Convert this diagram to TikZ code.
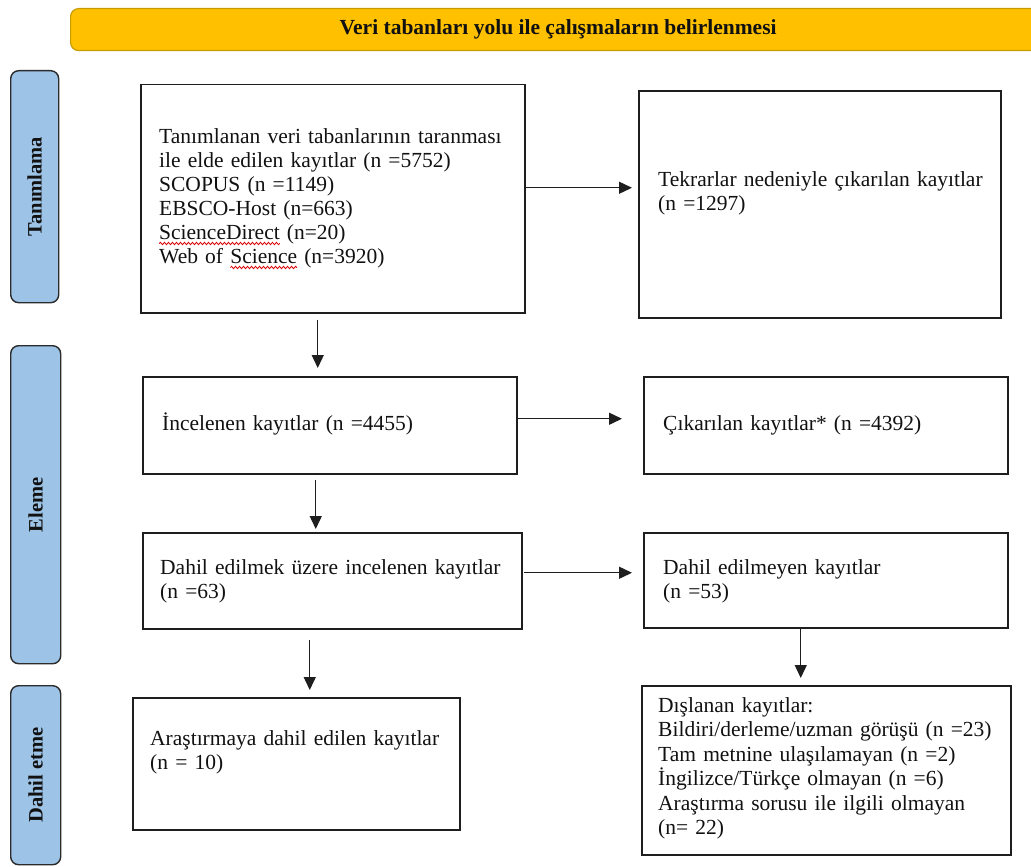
\documentclass[tikz,border=0pt]{standalone}
\usepackage{fontspec}
\setmainfont{Liberation Serif}
\usetikzlibrary{arrows.meta,calc,decorations.pathmorphing}
\definecolor{bannerfill}{HTML}{FFC000}
\definecolor{bannerdraw}{HTML}{C79C00}
\definecolor{stagefill}{HTML}{9DC3E6}
\definecolor{stagedraw}{HTML}{2B2B2B}
\definecolor{boxdraw}{HTML}{1E1E1E}
\definecolor{txtcol}{HTML}{111111}
\newsavebox\wavebox
\newlength\wavelen
\newcommand\redwave[1]{\leavevmode\sbox\wavebox{#1}\setlength\wavelen{\wd\wavebox}%
  \rlap{\tikz[baseline=0pt,x=1pt,y=1pt]{\useasboundingbox (0,0);
    \draw[red!85!black, line width=0.8pt, decorate, decoration={snake, amplitude=1.2pt, segment length=4pt}] (0,-4.5) -- (\wavelen,-4.5);}}%
  \usebox\wavebox}
\tikzset{
  banner/.style={draw=bannerdraw, fill=bannerfill, line width=1.2pt, rounded corners=8pt, inner sep=0pt,
    font=\fontsize{21.5pt}{24pt}\selectfont\bfseries, text=txtcol},
  stage/.style={draw=stagedraw, fill=stagefill, line width=1.4pt, rounded corners=8pt, inner sep=0pt,
    font=\fontsize{20.5pt}{24pt}\selectfont\bfseries, text=txtcol},
  box/.style={draw=boxdraw, line width=1.5pt, inner sep=0pt, anchor=north west},
  txt/.style={inner sep=0pt, anchor=base west, text width=370pt, align=left, text=txtcol,
    font=\fontsize{21.5pt}{24.5pt}\selectfont},
  arr/.style={draw=boxdraw, line width=1.4pt, -{Triangle[length=13pt,width=12pt]}}
}
\begin{document}
\begin{tikzpicture}[x=1pt,y=-1pt]
\useasboundingbox (0,0) rectangle (1031,867);
% banner
\node[banner, minimum width=975pt, minimum height=42pt, anchor=north west] (ban) at (70,8)
  {Veri tabanları yolu ile çalışmaların belirlenmesi};
% stages
\node[stage, minimum width=48pt, minimum height=232pt, anchor=north west] (s1) at (10,70)
  {\rotatebox{90}{Tanımlama}};
\node[stage, minimum width=50pt, minimum height=318pt, anchor=north west] (s2) at (10,345)
  {\rotatebox{90}{Eleme}};
\node[stage, minimum width=50pt, minimum height=179pt, anchor=north west] (s3) at (10,685)
  {\rotatebox{90}{Dahil etme}};
% boxes
\node[box, minimum width=384pt, minimum height=228pt] (b1) at (140,84) {};
\node[box, minimum width=362pt, minimum height=227pt] (b2) at (638,90) {};
\node[box, minimum width=374pt, minimum height=97pt] (b3) at (142,376) {};
\node[box, minimum width=364pt, minimum height=97pt] (b4) at (643,376) {};
\node[box, minimum width=379pt, minimum height=96pt] (b5) at (142,532) {};
\node[box, minimum width=364pt, minimum height=95pt] (b6) at (643,532) {};
\node[box, minimum width=327pt, minimum height=132pt] (b7) at (132,697) {};
\node[box, minimum width=369pt, minimum height=169pt] (b8) at (641,685) {};
% texts
\node[txt, font=\fontsize{21.5pt}{24pt}\selectfont] (t1) at (159,143) {Tanımlanan veri tabanlarının taranması\\ile elde edilen kayıtlar (n =5752)\\SCOPUS (n =1149)\\EBSCO-Host (n=663)\\\redwave{ScienceDirect} (n=20)\\Web of \redwave{Science} (n=3920)};
\node[txt] (t2) at (658,186) {Tekrarlar nedeniyle çıkarılan kayıtlar\\(n =1297)};
\node[txt] (t3) at (162,430) {İncelenen kayıtlar (n =4455)};
\node[txt] (t4) at (663,430) {Çıkarılan kayıtlar* (n =4392)};
\node[txt] (t5) at (160,574) {Dahil edilmek üzere incelenen kayıtlar\\(n =63)};
\node[txt] (t6) at (663,574) {Dahil edilmeyen kayıtlar\\(n =53)};
\node[txt] (t7) at (150,745) {Araştırmaya dahil edilen kayıtlar\\(n = 10)};
\node[txt] (t8) at (658,712) {Dışlanan kayıtlar:\\Bildiri/derleme/uzman görüşü (n =23)\\Tam metnine ulaşılamayan (n =2)\\İngilizce/Türkçe olmayan (n =6)\\Araştırma sorusu ile ilgili olmayan\\(n= 22)};
% connectors
\draw[arr, shorten >=6pt] ([yshift=11pt]b1.east) -- ([yshift=11pt]b1.east -| b2.west);
\draw[arr, shorten <=6pt, shorten >=8pt] ([xshift=-15pt]b1.south) -- ([xshift=-15pt]b1.south |- b3.north);
\draw[arr, shorten >=21pt] ([yshift=6.5pt]b3.east) -- ([yshift=6.5pt]b3.east -| b4.west);
\draw[arr, shorten <=5pt, shorten >=3pt] ([xshift=-14pt]b3.south) -- ([xshift=-14pt]b3.south |- b5.north);
\draw[arr, shorten <=1pt, shorten >=11pt] ([yshift=8pt]b5.east) -- ([yshift=8pt]b5.east -| b6.west);
\draw[arr, shorten <=10pt, shorten >=7pt] ([xshift=-22.5pt]b5.south) -- ([xshift=-22.5pt]b5.south |- b7.north);
\draw[arr, shorten >=7pt] ([xshift=-25pt]b6.south) -- ([xshift=-25pt]b6.south |- b8.north);
\end{tikzpicture}
\end{document}
